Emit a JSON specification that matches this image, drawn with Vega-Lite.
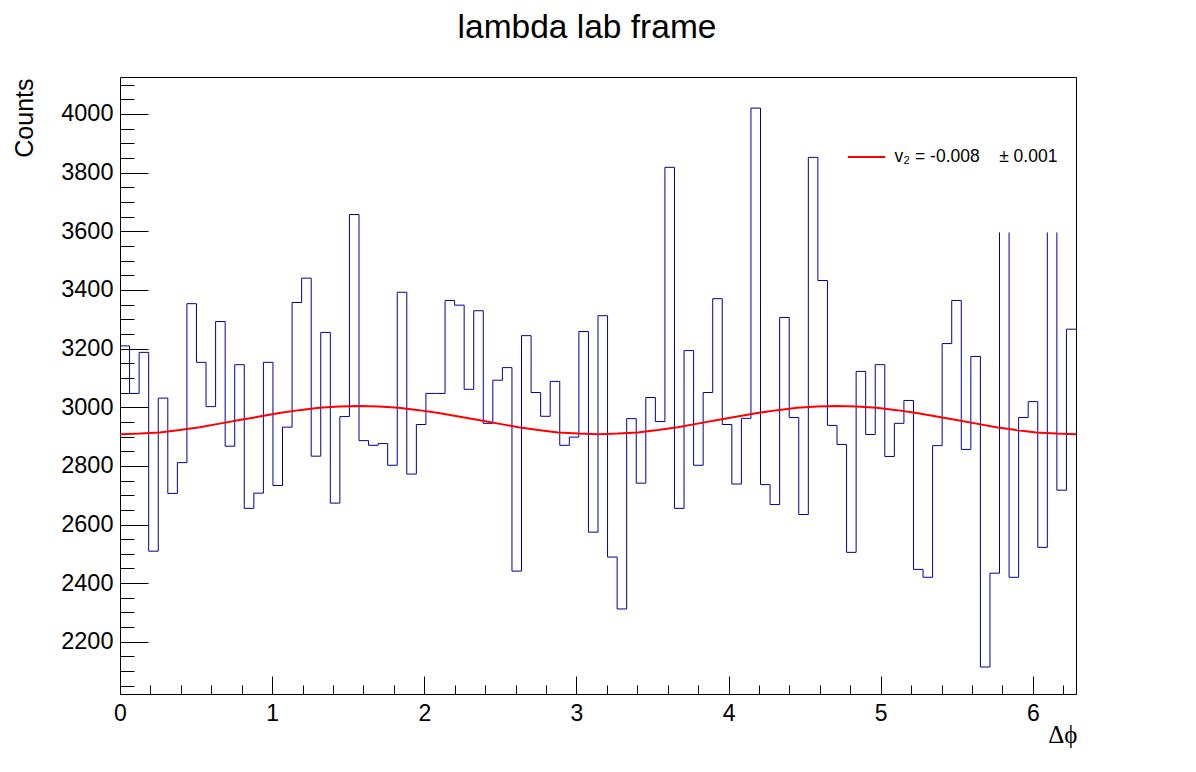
{
  "$schema": "https://vega.github.io/schema/vega-lite/v6.json",
  "width": 956,
  "height": 617,
  "autosize": "none",
  "padding": {"left": 120, "top": 77, "right": 120, "bottom": 78},
  "background": "white",
  "title": {
    "text": "lambda lab frame",
    "font": "Liberation Sans",
    "fontSize": 33.5,
    "fontWeight": "normal",
    "color": "black",
    "anchor": "middle",
    "baseline": "alphabetic",
    "offset": 6,
    "dx": -11
  },
  "datasets": {
    "hist": [
      {"lo": 0.0000, "hi": 0.0628, "counts": 3209},
      {"lo": 0.0628, "hi": 0.1257, "counts": 3047},
      {"lo": 0.1257, "hi": 0.1885, "counts": 3187},
      {"lo": 0.1885, "hi": 0.2513, "counts": 2509},
      {"lo": 0.2513, "hi": 0.3142, "counts": 3031},
      {"lo": 0.3142, "hi": 0.3770, "counts": 2706},
      {"lo": 0.3770, "hi": 0.4398, "counts": 2811},
      {"lo": 0.4398, "hi": 0.5027, "counts": 3353},
      {"lo": 0.5027, "hi": 0.5655, "counts": 3153},
      {"lo": 0.5655, "hi": 0.6283, "counts": 3002},
      {"lo": 0.6283, "hi": 0.6912, "counts": 3292},
      {"lo": 0.6912, "hi": 0.7540, "counts": 2867},
      {"lo": 0.7540, "hi": 0.8168, "counts": 3145},
      {"lo": 0.8168, "hi": 0.8796, "counts": 2655},
      {"lo": 0.8796, "hi": 0.9425, "counts": 2707},
      {"lo": 0.9425, "hi": 1.0053, "counts": 3153},
      {"lo": 1.0053, "hi": 1.0681, "counts": 2733},
      {"lo": 1.0681, "hi": 1.1310, "counts": 2932},
      {"lo": 1.1310, "hi": 1.1938, "counts": 3357},
      {"lo": 1.1938, "hi": 1.2566, "counts": 3440},
      {"lo": 1.2566, "hi": 1.3195, "counts": 2833},
      {"lo": 1.3195, "hi": 1.3823, "counts": 3255},
      {"lo": 1.3823, "hi": 1.4451, "counts": 2673},
      {"lo": 1.4451, "hi": 1.5080, "counts": 2968},
      {"lo": 1.5080, "hi": 1.5708, "counts": 3657},
      {"lo": 1.5708, "hi": 1.6336, "counts": 2886},
      {"lo": 1.6336, "hi": 1.6965, "counts": 2870},
      {"lo": 1.6965, "hi": 1.7593, "counts": 2876},
      {"lo": 1.7593, "hi": 1.8221, "counts": 2802},
      {"lo": 1.8221, "hi": 1.8850, "counts": 3392},
      {"lo": 1.8850, "hi": 1.9478, "counts": 2772},
      {"lo": 1.9478, "hi": 2.0106, "counts": 2941},
      {"lo": 2.0106, "hi": 2.0735, "counts": 3047},
      {"lo": 2.0735, "hi": 2.1363, "counts": 3047},
      {"lo": 2.1363, "hi": 2.1991, "counts": 3364},
      {"lo": 2.1991, "hi": 2.2619, "counts": 3348},
      {"lo": 2.2619, "hi": 2.3248, "counts": 3061},
      {"lo": 2.3248, "hi": 2.3876, "counts": 3329},
      {"lo": 2.3876, "hi": 2.4504, "counts": 2945},
      {"lo": 2.4504, "hi": 2.5133, "counts": 3092},
      {"lo": 2.5133, "hi": 2.5761, "counts": 3135},
      {"lo": 2.5761, "hi": 2.6389, "counts": 2441},
      {"lo": 2.6389, "hi": 2.7018, "counts": 3244},
      {"lo": 2.7018, "hi": 2.7646, "counts": 3050},
      {"lo": 2.7646, "hi": 2.8274, "counts": 2969},
      {"lo": 2.8274, "hi": 2.8903, "counts": 3088},
      {"lo": 2.8903, "hi": 2.9531, "counts": 2870},
      {"lo": 2.9531, "hi": 3.0159, "counts": 2898},
      {"lo": 3.0159, "hi": 3.0788, "counts": 3258},
      {"lo": 3.0788, "hi": 3.1416, "counts": 2574},
      {"lo": 3.1416, "hi": 3.2044, "counts": 3312},
      {"lo": 3.2044, "hi": 3.2673, "counts": 2489},
      {"lo": 3.2673, "hi": 3.3301, "counts": 2312},
      {"lo": 3.3301, "hi": 3.3929, "counts": 2961},
      {"lo": 3.3929, "hi": 3.4558, "counts": 2741},
      {"lo": 3.4558, "hi": 3.5186, "counts": 3033},
      {"lo": 3.5186, "hi": 3.5814, "counts": 2951},
      {"lo": 3.5814, "hi": 3.6442, "counts": 3818},
      {"lo": 3.6442, "hi": 3.7071, "counts": 2655},
      {"lo": 3.7071, "hi": 3.7699, "counts": 3193},
      {"lo": 3.7699, "hi": 3.8327, "counts": 2802},
      {"lo": 3.8327, "hi": 3.8956, "counts": 3050},
      {"lo": 3.8956, "hi": 3.9584, "counts": 3370},
      {"lo": 3.9584, "hi": 4.0212, "counts": 2941},
      {"lo": 4.0212, "hi": 4.0841, "counts": 2738},
      {"lo": 4.0841, "hi": 4.1469, "counts": 2962},
      {"lo": 4.1469, "hi": 4.2097, "counts": 4020},
      {"lo": 4.2097, "hi": 4.2726, "counts": 2736},
      {"lo": 4.2726, "hi": 4.3354, "counts": 2668},
      {"lo": 4.3354, "hi": 4.3982, "counts": 3306},
      {"lo": 4.3982, "hi": 4.4611, "counts": 2965},
      {"lo": 4.4611, "hi": 4.5239, "counts": 2634},
      {"lo": 4.5239, "hi": 4.5867, "counts": 3852},
      {"lo": 4.5867, "hi": 4.6496, "counts": 3432},
      {"lo": 4.6496, "hi": 4.7124, "counts": 2938},
      {"lo": 4.7124, "hi": 4.7752, "counts": 2873},
      {"lo": 4.7752, "hi": 4.8381, "counts": 2505},
      {"lo": 4.8381, "hi": 4.9009, "counts": 3122},
      {"lo": 4.9009, "hi": 4.9637, "counts": 2907},
      {"lo": 4.9637, "hi": 5.0265, "counts": 3145},
      {"lo": 5.0265, "hi": 5.0894, "counts": 2832},
      {"lo": 5.0894, "hi": 5.1522, "counts": 2945},
      {"lo": 5.1522, "hi": 5.2150, "counts": 3023},
      {"lo": 5.2150, "hi": 5.2779, "counts": 2447},
      {"lo": 5.2779, "hi": 5.3407, "counts": 2420},
      {"lo": 5.3407, "hi": 5.4035, "counts": 2869},
      {"lo": 5.4035, "hi": 5.4664, "counts": 3217},
      {"lo": 5.4664, "hi": 5.5292, "counts": 3364},
      {"lo": 5.5292, "hi": 5.5920, "counts": 2856},
      {"lo": 5.5920, "hi": 5.6549, "counts": 3173},
      {"lo": 5.6549, "hi": 5.7177, "counts": 2114},
      {"lo": 5.7177, "hi": 5.7805, "counts": 2434},
      {"lo": 5.7805, "hi": 5.8434, "counts": 3596},
      {"lo": 5.8434, "hi": 5.9062, "counts": 2420},
      {"lo": 5.9062, "hi": 5.9690, "counts": 2965},
      {"lo": 5.9690, "hi": 6.0319, "counts": 3019},
      {"lo": 6.0319, "hi": 6.0947, "counts": 2522},
      {"lo": 6.0947, "hi": 6.1575, "counts": 3596},
      {"lo": 6.1575, "hi": 6.2204, "counts": 2717},
      {"lo": 6.2204, "hi": 6.2832, "counts": 3266}
    ],
    "fit": [
      {"x": 0.0000, "fit": 2908},
      {"x": 0.1309, "fit": 2910},
      {"x": 0.2618, "fit": 2914},
      {"x": 0.3927, "fit": 2922},
      {"x": 0.5236, "fit": 2932},
      {"x": 0.6545, "fit": 2944},
      {"x": 0.7854, "fit": 2956},
      {"x": 0.9163, "fit": 2968},
      {"x": 1.0472, "fit": 2980},
      {"x": 1.1781, "fit": 2990},
      {"x": 1.3090, "fit": 2998},
      {"x": 1.4399, "fit": 3002},
      {"x": 1.5708, "fit": 3004},
      {"x": 1.7017, "fit": 3002},
      {"x": 1.8326, "fit": 2998},
      {"x": 1.9635, "fit": 2990},
      {"x": 2.0944, "fit": 2980},
      {"x": 2.2253, "fit": 2968},
      {"x": 2.3562, "fit": 2956},
      {"x": 2.4871, "fit": 2944},
      {"x": 2.6180, "fit": 2932},
      {"x": 2.7489, "fit": 2922},
      {"x": 2.8798, "fit": 2914},
      {"x": 3.0107, "fit": 2910},
      {"x": 3.1416, "fit": 2908},
      {"x": 3.2725, "fit": 2910},
      {"x": 3.4034, "fit": 2914},
      {"x": 3.5343, "fit": 2922},
      {"x": 3.6652, "fit": 2932},
      {"x": 3.7961, "fit": 2944},
      {"x": 3.9270, "fit": 2956},
      {"x": 4.0579, "fit": 2968},
      {"x": 4.1888, "fit": 2980},
      {"x": 4.3197, "fit": 2990},
      {"x": 4.4506, "fit": 2998},
      {"x": 4.5815, "fit": 3002},
      {"x": 4.7124, "fit": 3004},
      {"x": 4.8433, "fit": 3002},
      {"x": 4.9742, "fit": 2998},
      {"x": 5.1051, "fit": 2990},
      {"x": 5.2360, "fit": 2980},
      {"x": 5.3669, "fit": 2968},
      {"x": 5.4978, "fit": 2956},
      {"x": 5.6287, "fit": 2944},
      {"x": 5.7596, "fit": 2932},
      {"x": 5.8905, "fit": 2922},
      {"x": 6.0214, "fit": 2914},
      {"x": 6.1523, "fit": 2910},
      {"x": 6.2832, "fit": 2908}
    ]
  },
  "layer": [
    {
      "data": {"name": "hist"},
      "transform": [{"filter": "datum.counts != 3596"}],
      "mark": {"type": "rule", "color": "#000099", "strokeWidth": 1},
      "encoding": {
        "x": {
          "field": "lo",
          "type": "quantitative",
          "scale": {"domain": [0, 6.2832], "nice": false, "zero": false},
          "axis": {
            "orient": "bottom",
            "values": [0, 1, 2, 3, 4, 5, 6],
            "format": "d",
            "tickSize": -18,
            "labelPadding": 26,
            "labelFlush": false,
            "labelFontSize": 23,
            "title": "Δϕ",
            "titleFont": "Liberation Serif",
            "titleFontSize": 25,
            "titleFontWeight": "normal",
            "titleAlign": "right",
            "titleBaseline": "alphabetic",
            "titleX": 957,
            "titleY": 48
          }
        },
        "x2": {"field": "hi"},
        "y": {
          "field": "counts",
          "type": "quantitative",
          "scale": {"domain": [2022, 4126], "nice": false, "zero": false},
          "axis": {
            "orient": "left",
            "values": [2200, 2400, 2600, 2800, 3000, 3200, 3400, 3600, 3800, 4000],
            "format": "d",
            "tickSize": -28,
            "labelPadding": 35,
            "labelFontSize": 23.5,
            "title": "Counts",
            "titleFont": "Liberation Sans",
            "titleFontSize": 25,
            "titleFontWeight": "normal",
            "titleAngle": -90,
            "titleAlign": "right",
            "titleBaseline": "alphabetic",
            "titleX": -88,
            "titleY": 1
          }
        }
      }
    },
    {
      "data": {"name": "hist"},
      "transform": [
        {"window": [{"op": "lag", "field": "counts", "as": "prev"}], "sort": [{"field": "lo"}]},
        {"filter": "datum.prev != null"}
      ],
      "mark": {"type": "rule", "color": "#000099", "strokeWidth": 1},
      "encoding": {
        "x": {
          "field": "lo",
          "type": "quantitative",
          "axis": {
            "orient": "bottom",
            "values": [0.2, 0.4, 0.6, 0.8, 1.2, 1.4, 1.6, 1.8, 2.2, 2.4, 2.6, 2.8, 3.2, 3.4, 3.6, 3.8, 4.2, 4.4, 4.6, 4.8, 5.2, 5.4, 5.6, 5.8, 6.2],
            "tickSize": -9,
            "labels": false,
            "title": null
          }
        },
        "y": {
          "field": "prev",
          "type": "quantitative",
          "axis": {
            "orient": "left",
            "values": [2050, 2100, 2150, 2250, 2300, 2350, 2450, 2500, 2550, 2650, 2700, 2750, 2850, 2900, 2950, 3050, 3100, 3150, 3250, 3300, 3350, 3450, 3500, 3550, 3650, 3700, 3750, 3850, 3900, 3950, 4050, 4100],
            "tickSize": -14,
            "labels": false,
            "title": null
          }
        },
        "y2": {"field": "counts"}
      }
    },
    {
      "data": {"name": "fit"},
      "mark": {"type": "line", "strokeWidth": 2},
      "encoding": {
        "x": {"field": "x", "type": "quantitative", "axis": null},
        "y": {"field": "fit", "type": "quantitative", "axis": null},
        "color": {
          "datum": "v₂ = -0.008\u00a0\u00a0\u00a0\u00a0± 0.001",
          "type": "nominal",
          "scale": {"range": ["#ff0000"]},
          "legend": {
            "orient": "none",
            "legendX": 726.6,
            "legendY": 60,
            "title": null,
            "padding": 0,
            "symbolType": "stroke",
            "symbolSize": 1400,
            "symbolStrokeWidth": 2,
            "labelFont": "Liberation Sans",
            "labelFontSize": 17.5,
            "labelColor": "black",
            "labelOffset": 8,
            "labelLimit": 400
          }
        }
      }
    }
  ],
  "resolve": {"axis": {"x": "independent", "y": "independent"}},
  "config": {
    "view": {"stroke": "black", "strokeWidth": 1},
    "axis": {
      "grid": false,
      "domain": false,
      "ticks": true,
      "tickColor": "black",
      "tickWidth": 1,
      "labelColor": "black",
      "labelFont": "Liberation Sans",
      "titleColor": "black"
    }
  }
}
